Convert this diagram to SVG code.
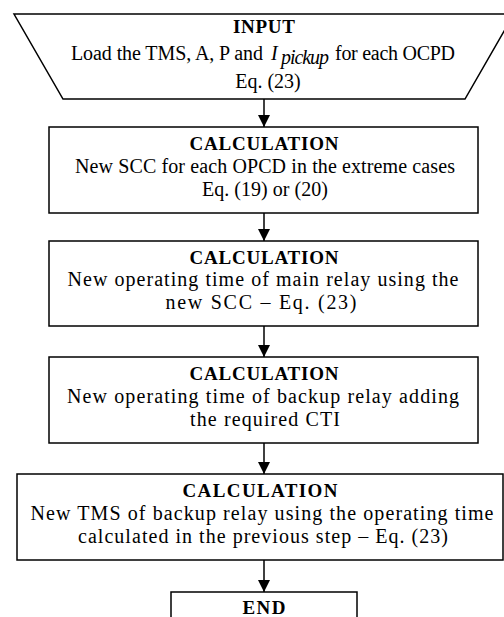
<svg xmlns="http://www.w3.org/2000/svg" width="504" height="617" viewBox="0 0 504 617">
<style>
.shape{fill:#fff;stroke:#000;stroke-width:1.5}
.t{font-family:"Liberation Serif","Times New Roman",serif;font-size:20px;fill:#000}
.c{text-anchor:middle}
.b{font-weight:bold;font-size:19px}
.i{font-style:italic}
.conn{stroke:#000;stroke-width:1.5;fill:none}
</style>
<defs>
<marker id="arr" markerUnits="userSpaceOnUse" markerWidth="12" markerHeight="12" refX="11" refY="5.5" orient="auto" viewBox="0 0 11 11">
<path d="M0,0 L11,5.5 L0,11 z" fill="#000"/>
</marker>
</defs>
<rect width="504" height="617" fill="#fff"/>
<g id="connectors">
<line class="conn" x1="264" y1="99" x2="264" y2="127" marker-end="url(#arr)"/>
<line class="conn" x1="264" y1="213" x2="264" y2="241" marker-end="url(#arr)"/>
<line class="conn" x1="264" y1="326" x2="264" y2="357" marker-end="url(#arr)"/>
<line class="conn" x1="264" y1="443" x2="264" y2="474" marker-end="url(#arr)"/>
<line class="conn" x1="264" y1="560" x2="264" y2="592" marker-end="url(#arr)"/>
</g>
<g id="input">
<polygon class="shape" points="14,14 514,14 465,99 63,99"/>
<text class="t b c" x="264" y="33" textLength="62">INPUT</text>
<text class="t" x="71" y="60" textLength="192">Load the TMS, A, P and</text>
<text class="t i" x="271" y="60">I</text>
<text class="t i" x="281" y="64" font-size="13" textLength="48">pickup</text>
<text class="t" x="335" y="60" textLength="120">for each OCPD</text>
<text class="t c" x="268" y="88">Eq. (23)</text>
</g>
<g id="calc1">
<rect class="shape" x="49" y="127" width="429" height="86"/>
<text class="t b c" x="264" y="150" textLength="149">CALCULATION</text>
<text class="t c" x="265" y="173" textLength="380">New SCC for each OPCD in the extreme cases</text>
<text class="t c" x="265" y="196" textLength="126">Eq. (19) or (20)</text>
</g>
<g id="calc2">
<rect class="shape" x="49" y="241" width="429" height="85"/>
<text class="t b c" x="264" y="264" textLength="149">CALCULATION</text>
<text class="t c" x="263" y="286" textLength="391">New operating time of main relay using the</text>
<text class="t c" x="261" y="309" textLength="191">new SCC – Eq. (23)</text>
</g>
<g id="calc3">
<rect class="shape" x="49" y="357" width="429" height="86"/>
<text class="t b c" x="264" y="380" textLength="149">CALCULATION</text>
<text class="t c" x="263" y="403" textLength="392">New operating time of backup relay adding</text>
<text class="t c" x="265" y="426" textLength="150">the required CTI</text>
</g>
<g id="calc4">
<rect class="shape" x="17" y="474" width="486" height="86"/>
<text class="t b c" x="260" y="497" textLength="155">CALCULATION</text>
<text class="t c" x="262" y="520" textLength="463">New TMS of backup relay using the operating time</text>
<text class="t c" x="263" y="543" textLength="370">calculated in the previous step – Eq. (23)</text>
</g>
<g id="end">
<rect class="shape" x="171" y="592" width="186" height="50"/>
<text class="t b c" x="264" y="614" textLength="43">END</text>
</g>
</svg>
